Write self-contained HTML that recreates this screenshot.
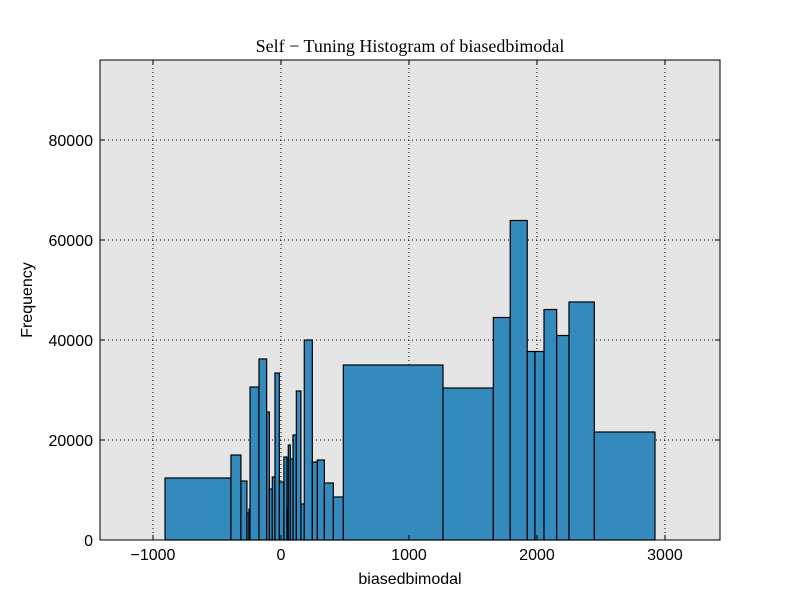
<!DOCTYPE html>
<html><head><meta charset="utf-8"><style>
body{margin:0;background:#fff;width:800px;height:600px;overflow:hidden}
svg text{font-family:"Liberation Sans",sans-serif}
</style></head><body>
<svg id="chart" width="800" height="600">
<rect width="800" height="600" fill="#fff"/>
<rect x="100" y="60" width="620" height="480" fill="#e5e5e5"/>
<g id="grid"></g><g id="bars"></g>
<rect x="100" y="60" width="620" height="480" fill="none" stroke="#000" stroke-width="1"/>
<g id="ticks"></g>
<text x="410" y="52" text-anchor="middle" font-size="18" style="font-family:'Liberation Serif',serif">Self − Tuning Histogram of biasedbimodal</text>
<text x="410" y="584" text-anchor="middle" font-size="16">biasedbimodal</text>
<text x="32" y="300" text-anchor="middle" font-size="16" transform="rotate(-90 32 300)">Frequency</text>
</svg>
<script>
const binEdges=[-906,-391,-313,-266,-250,-242,-172,-112,-91,-68,-47,-13,23,47,57,73,94,120,156,182,245,284,339,409,487,1266,1659,1791,1924,1984,2055,2154,2250,2448,2922];
const counts=[12400,17000,11800,5400,6200,30600,36200,25600,10200,12600,33400,11600,16600,6400,19000,16200,21000,29800,7200,40000,15600,16000,11400,8600,35000,30400,44500,63900,37700,37700,46100,40900,47600,21600];
const xTicks=[-1000,0,1000,2000,3000];
const yTicks=[0,20000,40000,60000,80000];
const xMin=-1414,xMax=3430,yMin=0,yMax=96000;
const L=100,R=720,T=60,B=540;
const xs=v=>L+(v-xMin)/(xMax-xMin)*(R-L);
const ys=v=>B-(v-yMin)/(yMax-yMin)*(B-T);
const NS="http://www.w3.org/2000/svg";
const grid=document.getElementById('grid'),bars=document.getElementById('bars'),ticks=document.getElementById('ticks');
function mk(tag,attrs,parent){const e=document.createElementNS(NS,tag);for(const k in attrs)e.setAttribute(k,attrs[k]);parent.appendChild(e);return e;}
xTicks.forEach(t=>{const x=xs(t);
 const g=mk('line',{x1:x,x2:x,y1:T,y2:B,stroke:'#000','stroke-dasharray':'1,3','stroke-width':1},grid);
 
 
 mk('line',{x1:x,x2:x,y1:B,y2:B-5,stroke:'#000'},ticks);
 mk('line',{x1:x,x2:x,y1:T,y2:T+5,stroke:'#000'},ticks);
 const tx=mk('text',{x:x,y:B+20,'text-anchor':'middle','font-size':16},ticks);
 tx.textContent=t<0?'−'+Math.abs(t):t;
 
 
});
yTicks.forEach(t=>{const y=ys(t);
 const g=mk('line',{x1:L,x2:R,y1:y,y2:y,stroke:'#000','stroke-dasharray':'1,3','stroke-width':1},grid);
 
 
 mk('line',{x1:L,x2:L+5,y1:y,y2:y,stroke:'#000'},ticks);
 mk('line',{x1:R,x2:R-5,y1:y,y2:y,stroke:'#000'},ticks);
 const tx=mk('text',{x:L-7,y:y+6,'text-anchor':'end','font-size':16},ticks);
 tx.textContent=t;
 
 
});
counts.forEach((c,i)=>{const x0=xs(binEdges[i]),x1=xs(binEdges[i+1]);
 const r=mk('rect',{x:x0,y:ys(c),width:x1-x0,height:ys(0)-ys(c),fill:'#348abd',stroke:'#000','stroke-width':1.2},bars);
 
 
});
</script>
</body></html>
